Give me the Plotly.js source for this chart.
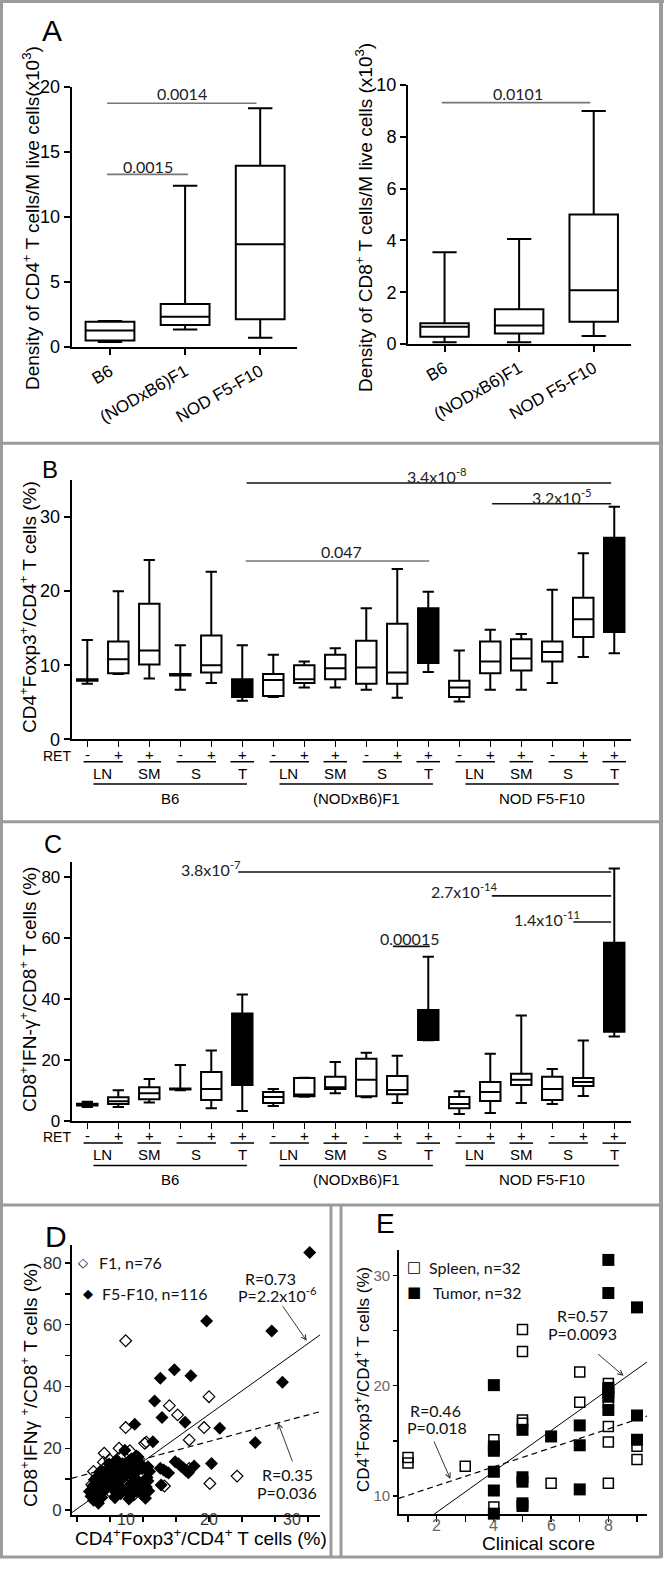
<!DOCTYPE html>
<html><head><meta charset="utf-8">
<script src="https://cdn.plot.ly/plotly-3.0.1.min.js"></script>
<style>html,body{margin:0;padding:0;background:#fff}#g{width:664px;height:1578px}</style>
</head><body><div id="g"></div>
<script>
// ---------------- DATA ----------------
const catsA = ['B6', '(NODxB6)F1', 'NOD F5-F10'];
const posA = [0, 1, 2];
// Panel A left: CD4+ density (x10^3)
const cd4Low = [0.38, 1.35, 0.72];
const cd4Q1 = [0.5, 1.69, 2.13];
const cd4Med = [1.26, 2.33, 7.9];
const cd4Q3 = [1.95, 3.3, 13.95];
const cd4High = [2.0, 12.4, 18.36];
// Panel A right: CD8+ density (x10^3)
const cd8Low = [0.07, 0.07, 0.31];
const cd8Q1 = [0.28, 0.41, 0.86];
const cd8Med = [0.67, 0.71, 2.08];
const cd8Q3 = [0.8, 1.34, 5.0];
const cd8High = [3.54, 4.05, 9.0];

// Panels B/C: 18 groups (3 strains x LN-,LN+,SM+,S-,S+,T+)
const strains = ['B6', '(NODxB6)F1', 'NOD F5-F10'];
const posBC = [0, 1, 2, 3, 4, 5, 6, 7, 8, 9, 10, 11, 12, 13, 14, 15, 16, 17];
const retSigns = ['-', '+', '+', '-', '+', '+'];
const subLabels = ['LN', 'SM', 'S', 'T'];
const subFrom = [0, 2, 3, 5];
const subTo = [1, 2, 4, 5];
const tumorIdx = [5, 11, 17];
// B: CD4+Foxp3+/CD4+ (%)
const bLow = [7.5, 8.8, 8.2, 6.7, 7.6, 5.2, 5.7, 7.0, 7.0, 6.7, 5.6, 9.1, 5.1, 6.7, 6.7, 7.6, 11.1, 11.6];
const bQ1 = [7.9, 8.9, 10.1, 8.6, 9.0, 5.7, 5.85, 7.6, 8.1, 7.5, 7.5, 10.3, 5.7, 8.9, 9.3, 10.5, 13.8, 14.5];
const bMed = [8.0, 10.8, 12.0, 8.7, 10.0, 6.5, 8.0, 8.1, 9.6, 9.7, 9.0, 14.0, 7.0, 10.5, 10.9, 11.8, 16.2, 20.0];
const bQ3 = [8.1, 13.2, 18.3, 8.8, 14.0, 8.1, 8.8, 10.0, 11.4, 13.3, 15.6, 17.7, 7.9, 13.2, 13.5, 13.2, 19.1, 27.2];
const bHigh = [13.4, 20.0, 24.2, 12.7, 22.6, 12.7, 11.4, 10.5, 12.3, 17.7, 23.0, 19.9, 12.0, 14.8, 14.2, 20.2, 25.1, 31.4];
// C: CD8+IFN-g+/CD8+ (%)
const cLow = [4.5, 4.5, 6.0, 10.0, 4.1, 3.2, 4.8, 7.9, 9.0, 7.7, 5.8, 26.4, 2.2, 2.5, 5.8, 5.5, 8.1, 27.6];
const cQ1 = [5.0, 5.5, 7.0, 10.2, 6.8, 11.7, 5.8, 8.0, 10.4, 8.0, 8.7, 26.5, 4.1, 6.5, 11.7, 6.8, 11.4, 29.2];
const cMed = [5.3, 6.4, 9.0, 10.4, 10.4, 25.0, 7.8, 8.6, 11.0, 13.4, 10.1, 31.0, 5.5, 9.4, 13.4, 10.4, 12.7, 45.0];
const cQ3 = [5.6, 7.7, 11.0, 10.6, 16.0, 35.2, 9.4, 14.0, 14.4, 20.3, 14.7, 36.3, 7.8, 12.7, 15.4, 14.4, 14.0, 58.4];
const cHigh = [6.2, 10.0, 13.7, 18.3, 23.0, 41.4, 10.4, 14.1, 19.3, 22.3, 21.3, 53.8, 9.7, 22.0, 34.5, 17.0, 26.3, 82.75];

// significance bars: [from, to, level], label, label position
const aLeftSigText = ['0.0015', '0.0014'];
const aLeftSigFrom = [-0.04, -0.04], aLeftSigTo = [1.04, 1.95], aLeftSigY = [13.28, 18.75];
const aLeftSigTx = [0.51, 0.96], aLeftSigShift = [7.6, 9.3];
const aRightSigText = ['0.0101'];
const aRightSigFrom = [-0.036], aRightSigTo = [1.954], aRightSigY = [9.32];
const aRightSigTx = [0.985], aRightSigShift = [8.7];
const bSigText = ['3.4x10<sup>-8</sup>', '3.2x10<sup>-5</sup>', '0.047'];
const bSigFrom = [5.14, 13.06, 5.11], bSigTo = [16.9, 16.9, 11.03], bSigY = [34.6, 31.8, 24.07];
const bSigTx = [11.28, 15.33, 8.21], bSigShift = [7.7, 7.3, 9.2], bSigColor = ['#111', '#111', '#777'];
const cSigText = ['3.8x10<sup>-7</sup>', '2.7x10<sup>-14</sup>', '1.4x10<sup>-11</sup>', '0.00015'];
const cSigFrom = [4.87, 13.05, 15.68, 9.86], cSigTo = [16.9, 16.9, 16.9, 11.05], cSigY = [81.6, 73.8, 65.2, 57.2];
const cSigTx = [5.02, 13.31, 15.95, 10.41], cSigShift = [3.7, 5.7, 3.7, 8.4], cSigAnchor = ['right', 'right', 'right', 'center'];

// Panel D scatter: [Foxp3 %, IFNg %]
const dF1 = [[9.9,54.8],[20.0,36.7],[15.2,33.8],[16.2,30.8],[19.4,26.7],[9.9,26.7],[17.6,22.7],[12.2,21.6],[12.4,22.0],[9.1,20.0],[7.3,18.4],[17.6,13.5],[20.1,8.6],[23.4,11.0],[14.6,7.8],[7.7,14.6],
  [5.8,8.3],[6.2,5.7],[6.7,10.8],[7.0,7.3],[7.5,12.0],[8.1,9.0],[8.4,13.2],[8.7,5.9],[9.0,11.0],[9.4,14.3],[9.8,8.6],[10.1,12.4],[10.5,15.2],[10.8,9.9],[11.2,6.3],[11.6,11.6],
  [6.5,3.9],[7.9,6.2],[9.2,17.0],[10.4,19.2],[11.0,13.5],[8.0,16.2],[12.0,8.8],[6.0,12.5],[7.2,15.5],[10.9,4.9]];
const dF5 = [[32.2,83.4],[19.7,61.2],[27.6,58.0],[28.9,41.4],[15.8,45.4],[17.8,43.5],[14.1,42.7],[13.4,35.3],[14.3,30.0],[17.1,28.4],[21.3,26.5],[11.0,27.8],[25.6,21.9],[13.2,22.1],[9.8,19.4],[11.2,17.5],[11.4,17.2],[18.2,14.3],[20.3,15.1],
  [15.9,15.6],[16.3,15.0],[16.6,14.2],[16.9,13.6],[17.2,12.8],[17.5,12.1],[14.1,13.5],[14.5,13.0],[14.8,12.4],[15.1,12.0],[12.6,14.0],[12.8,12.5],[12.5,10.5],[12.6,9.4],[12.4,7.5],[12.7,6.2],[12.3,3.8],[14.2,8.1],
  [5.5,6.0],[5.7,4.5],[6.0,3.2],[6.3,5.3],[6.5,7.0],[6.6,2.2],[6.9,8.5],[7.0,4.1],[7.3,9.5],[7.4,6.5],[7.6,11.2],[7.8,12.3],[8.0,8.0],[8.2,10.4],[8.3,13.5],[8.5,6.4],[8.7,11.5],[8.9,14.2],[9.0,9.3],[9.2,12.8],[9.4,7.2],[9.5,15.0],[9.7,10.6],[9.9,13.8],[10.0,6.0],[10.2,15.6],[10.4,11.9],[10.5,8.4],[10.7,14.5],[10.9,5.7],[11.1,10.0],[11.3,12.6],[11.5,7.8],[11.6,9.0],[11.8,5.2],[11.9,13.4],
  [6.1,9.8],[7.1,11.8],[8.6,4.0],[9.3,5.3],[10.3,3.6],[5.9,7.8],[6.8,12.5],[7.9,14.9],[8.8,16.3],[10.6,16.6],[11.7,15.0],[9.6,12.0],[8.4,9.6],[7.7,7.5],[6.4,10.6]];
const dFitSlope = [1.913, 0.717];      // F5-F10 (solid), F1 (dashed)
const dFitIntercept = [-7.3, 7.86];
const dXTicks = [4, 8, 12, 16, 20, 24, 28, 32];
const dXLabels = [10, 20, 30];
const dYTicks = [0, 10, 20, 30, 40, 50, 60, 70, 80];
const dYLabels = ['0', '', '20', '', '40', '', '60', '', '80'];

// Panel E scatter: [clinical score, CD4+Foxp3+/CD4+ %]
const eSpleen = [[1,13.5],[1,13.0],[3,12.7],[4,15.1],[4,9.0],[5,25.1],[5,23.1],[5,16.6],[5,16.9],[6,11.15],[7,21.25],[7,18.5],[8,20.2],[8,19.6],[8,18.5],[8,16.3],[8,14.9],[8,11.15],[9,14.5],[9,13.3]];
const eTumor = [[8,31.4],[8,28.4],[9,27.1],[4,20.05],[8,19.8],[8,19.4],[8,19.0],[8,17.8],[7,16.4],[7,14.6],[5,16.0],[5,11.7],[5,11.3],[5,9.34],[5,9.1],[6,15.4],[4,14.5],[4,14.1],[4,12.2],[4,10.5],[7,10.6],[9,17.3],[9,15.1],[4,8.4]];
const eFitSlope = [1.854, 0.859];      // tumor (solid), spleen (dashed)
const eFitIntercept = [4.81, 9.21];
const eXTicks = [1, 2, 3, 4, 5, 6, 7, 8, 9];
const eXLabels = [2, 4, 6, 8];
const eYTicks = [10, 15, 20, 25, 30];
const eYLabels = ['10', '', '20', '', '30'];

// ---------------- HELPERS ----------------
const W = 664, H = 1578;
const FA = 'Liberation Sans, Arial, sans-serif';
const FC = 'Lato, Carlito, Calibri, sans-serif';
const FS = 'DejaVu Sans, sans-serif';
const GRAY = '#9b9b9b';
const pxX = x => x / W, pxY = y => 1 - y / H;

function xa(l, r, range, extra) {
  return Object.assign({domain: [l / W, r / W], range: range, showline: true, linecolor: 'black', linewidth: 2,
    showgrid: false, zeroline: false, ticks: 'outside', ticklen: 6, tickwidth: 2, tickcolor: 'black',
    fixedrange: true, tickfont: {family: FA, size: 17, color: 'black'}}, extra || {});
}
function ya(t, b, range, extra) {
  return Object.assign({domain: [1 - b / H, 1 - t / H], range: range, showline: true, linecolor: 'black', linewidth: 2,
    showgrid: false, zeroline: false, ticks: 'outside', ticklen: 6, tickwidth: 2, tickcolor: 'black',
    fixedrange: true, tickfont: {family: FA, size: 18, color: 'black'}}, extra || {});
}
const annotations = [];
const shapes = [];
function txt(text, x, y, size, opts) {
  annotations.push(Object.assign({text: text, x: pxX(x), y: pxY(y), xref: 'paper', yref: 'paper', showarrow: false,
    xanchor: 'center', yanchor: 'middle', font: {family: FA, size: size, color: 'black'}}, opts || {}));
}
function pline(x0, y0, x1, y1, color, w) {
  shapes.push({type: 'line', xref: 'paper', yref: 'paper', x0: pxX(x0), y0: pxY(y0), x1: pxX(x1), y1: pxY(y1),
    line: {color: color, width: w}});
}
function boxTrace(ax, idx, lo, q1, med, q3, hi, pos, fill, width, ww) {
  const pick = a => idx.map(i => a[i]);
  return {type: 'box', xaxis: 'x' + ax, yaxis: 'y' + ax, x: pick(pos), lowerfence: pick(lo), q1: pick(q1),
    median: pick(med), q3: pick(q3), upperfence: pick(hi), width: width, whiskerwidth: ww,
    fillcolor: fill, line: {color: 'black', width: 2}, boxpoints: false, hoverinfo: 'skip', showlegend: false};
}
function sigBars(ax, from, to, ylev, texts, tx, shift, colors, anchors, fsize) {
  for (let i = 0; i < texts.length; i++) {
    const col = colors ? colors[i] : '#111';
    shapes.push({type: 'line', xref: 'x' + ax, yref: 'y' + ax, x0: from[i], x1: to[i], y0: ylev[i], y1: ylev[i],
      line: {color: col, width: 1.6}});
    annotations.push({text: texts[i], x: tx[i], y: ylev[i], xref: 'x' + ax, yref: 'y' + ax, showarrow: false,
      xanchor: anchors ? anchors[i] : 'center', yanchor: 'middle', yshift: shift[i],
      font: {family: FC, size: fsize, color: '#222'}});
  }
}

// ---------------- TRACES ----------------
const traces = [];
traces.push(boxTrace('', posA, cd4Low, cd4Q1, cd4Med, cd4Q3, cd4High, posA, 'white', 0.65, 0.5));
traces.push(boxTrace('2', posA, cd8Low, cd8Q1, cd8Med, cd8Q3, cd8High, posA, 'white', 0.65, 0.5));
const openIdx = posBC.filter(i => tumorIdx.indexOf(i) < 0);
traces.push(boxTrace('3', openIdx, bLow, bQ1, bMed, bQ3, bHigh, posBC, 'white', 0.66, 0.55));
traces.push(boxTrace('3', tumorIdx, bLow, bQ1, bMed, bQ3, bHigh, posBC, 'black', 0.66, 0.55));
traces.push(boxTrace('4', openIdx, cLow, cQ1, cMed, cQ3, cHigh, posBC, 'white', 0.66, 0.55));
traces.push(boxTrace('4', tumorIdx, cLow, cQ1, cMed, cQ3, cHigh, posBC, 'black', 0.66, 0.55));

// D
traces.push({type: 'scatter', mode: 'markers', xaxis: 'x5', yaxis: 'y5', x: dF1.map(p => p[0]), y: dF1.map(p => p[1]),
  marker: {symbol: 'diamond-open', size: 9, color: 'black', line: {width: 1.2, color: 'black'}}, hoverinfo: 'skip', cliponaxis: false});
traces.push({type: 'scatter', mode: 'markers', xaxis: 'x5', yaxis: 'y5', x: dF5.map(p => p[0]), y: dF5.map(p => p[1]),
  marker: {symbol: 'diamond', size: 10, color: 'black'}, hoverinfo: 'skip', cliponaxis: false});
const dXR = [3.36, 33.45];
traces.push({type: 'scatter', mode: 'lines', xaxis: 'x5', yaxis: 'y5', x: dXR, y: dXR.map(x => dFitSlope[0] * x + dFitIntercept[0]),
  line: {color: 'black', width: 1}, hoverinfo: 'skip'});
traces.push({type: 'scatter', mode: 'lines', xaxis: 'x5', yaxis: 'y5', x: dXR, y: dXR.map(x => dFitSlope[1] * x + dFitIntercept[1]),
  line: {color: 'black', width: 1.2, dash: '6px,4px'}, hoverinfo: 'skip'});
// E
const eXR = [0.675, 9.35];
traces.push({type: 'scatter', mode: 'lines', xaxis: 'x6', yaxis: 'y6', x: eXR, y: eXR.map(x => eFitSlope[0] * x + eFitIntercept[0]),
  line: {color: 'black', width: 1}, hoverinfo: 'skip'});
traces.push({type: 'scatter', mode: 'lines', xaxis: 'x6', yaxis: 'y6', x: eXR, y: eXR.map(x => eFitSlope[1] * x + eFitIntercept[1]),
  line: {color: 'black', width: 1.2, dash: '6px,4px'}, hoverinfo: 'skip'});
traces.push({type: 'scatter', mode: 'markers', xaxis: 'x6', yaxis: 'y6', x: eSpleen.map(p => p[0]), y: eSpleen.map(p => p[1]),
  marker: {symbol: 'square-open', size: 10, color: 'black', line: {width: 1.5, color: 'black'}}, hoverinfo: 'skip', cliponaxis: false});
traces.push({type: 'scatter', mode: 'markers', xaxis: 'x6', yaxis: 'y6', x: eTumor.map(p => p[0]), y: eTumor.map(p => p[1]),
  marker: {symbol: 'square', size: 12, color: 'black'}, hoverinfo: 'skip', cliponaxis: false});

// ---------------- ANNOTATIONS / DECOR ----------------
// Frames
pline(0, 1.5, 664, 1.5, GRAY, 3);
pline(1.5, 0, 1.5, 1558, GRAY, 3);
pline(661, 0, 661, 1558, GRAY, 4);
pline(0, 443.3, 661, 443.3, GRAY, 3);
pline(0, 821.7, 661, 821.7, GRAY, 3);
pline(0, 1205, 661, 1205, GRAY, 3);
pline(331, 1205, 331, 1558, GRAY, 3);
pline(341, 1205, 341, 1558, GRAY, 3);
pline(0, 1557, 661, 1557, GRAY, 3);

// Panel letters
txt('A', 52, 31, 30);
txt('B', 50, 469, 24);
txt('C', 53, 844, 25);
txt('D', 56, 1236, 30);
txt('E', 385, 1223, 28);

// Axis titles
txt('Density of CD4<sup>+</sup> T cells/M live cells(x10<sup>3</sup>)', 31, 218, 19, {textangle: -90});
txt('Density of CD8<sup>+</sup> T cells/M live cells (x10<sup>3</sup>)', 364, 218, 19, {textangle: -90});
txt('CD4<sup>+</sup>Foxp3<sup>+</sup>/CD4<sup>+</sup> T cells (%)', 28, 607, 19, {textangle: -90});
txt('CD8<sup>+</sup>IFN-γ<sup>+</sup>/CD8<sup>+</sup> T cells (%)', 28, 990, 19, {textangle: -90});
txt('CD8<sup>+</sup>IFNγ <sup>+</sup>/CD8<sup>+</sup> T cells (%)', 29, 1385, 19, {textangle: -90});
txt('CD4<sup>+</sup>Foxp3<sup>+</sup>/CD4<sup>+</sup> T cells (%)', 201, 1537, 19);
txt('CD4<sup>+</sup>Foxp3<sup>+</sup>/CD4<sup>+</sup> T cells (%)', 362, 1380, 17, {textangle: -90});
txt('Clinical score', 538, 1543, 19);

// Significance bars
sigBars('', aLeftSigFrom, aLeftSigTo, aLeftSigY, aLeftSigText, aLeftSigTx, aLeftSigShift, ['#777', '#777'], null, 16);
sigBars('2', aRightSigFrom, aRightSigTo, aRightSigY, aRightSigText, aRightSigTx, aRightSigShift, ['#777'], null, 16);
sigBars('3', bSigFrom, bSigTo, bSigY, bSigText, bSigTx, bSigShift, bSigColor, null, 16);
sigBars('4', cSigFrom, cSigTo, cSigY, cSigText, cSigTx, cSigShift, null, cSigAnchor, 16);

// B / C category decorations under the x axis
function catRows(ax, yAxisPx) {
  const off = yAxisPx - 739.3;
  txt('RET', 56.7, 756 + off, 14);
  for (let s = 0; s < 3; s++) {
    for (let k = 0; k < 6; k++) {
      annotations.push({text: retSigns[k], x: posBC[s * 6 + k], y: pxY(754 + off), xref: 'x' + ax, yref: 'paper',
        showarrow: false, xanchor: 'center', yanchor: 'middle', font: {family: FA, size: 15, color: 'black'}});
    }
    for (let j = 0; j < subLabels.length; j++) {
      const a = posBC[s * 6 + subFrom[j]], b = posBC[s * 6 + subTo[j]];
      const single = a === b;
      shapes.push({type: 'line', xref: 'x' + ax, yref: 'paper', x0: single ? a - 0.38 : a - 0.12, x1: single ? b + 0.38 : b + 0.15,
        y0: pxY(761.7 + off), y1: pxY(761.7 + off), line: {color: 'black', width: 1.5}});
      annotations.push({text: subLabels[j], x: (a + b) / 2, y: pxY(773.5 + off), xref: 'x' + ax, yref: 'paper',
        showarrow: false, xanchor: 'center', yanchor: 'middle', font: {family: FA, size: 15, color: 'black'}});
    }
    const g0 = posBC[s * 6] + 0.2, g1 = posBC[s * 6 + 5] + 0.15;
    shapes.push({type: 'line', xref: 'x' + ax, yref: 'paper', x0: g0, x1: g1, y0: pxY(784 + off), y1: pxY(784 + off),
      line: {color: 'black', width: 1.5}});
    annotations.push({text: strains[s], x: (g0 + g1) / 2, y: pxY(798.5 + off), xref: 'x' + ax, yref: 'paper',
      showarrow: false, xanchor: 'center', yanchor: 'middle', font: {family: FA, size: 15, color: 'black'}});
  }
}
catRows('3', 739.3);
catRows('4', 1120.7);

// D tick labels, legend, stats
dXLabels.forEach(v => annotations.push({text: String(v), x: v, y: pxY(1519), xref: 'x5', yref: 'paper', showarrow: false,
  xanchor: 'center', yanchor: 'middle', font: {family: FA, size: 16, color: '#333'}}));
txt('◇', 83, 1262, 13, {font: {family: FS, size: 13, color: 'black'}});
txt('◆', 88, 1293, 13, {font: {family: FS, size: 13, color: 'black'}});
txt('F1, n=76', 97, 1262, 16, {xanchor: 'left', font: {family: FC, size: 16, color: '#111'}});
txt('F5-F10, n=116', 100, 1293, 16, {xanchor: 'left', font: {family: FC, size: 16, color: '#111'}});
txt('R=0.73', 270, 1278, 16, {font: {family: FC, size: 16, color: '#111'}});
txt('P=2.2x10<sup>-6</sup>', 277, 1294, 16, {font: {family: FC, size: 16, color: '#111'}});
txt('R=0.35', 287, 1474, 16, {font: {family: FC, size: 16, color: '#111'}});
txt('P=0.036', 287, 1492, 16, {font: {family: FC, size: 16, color: '#111'}});
// E tick labels, legend, stats
eXLabels.forEach(v => annotations.push({text: String(v), x: v, y: pxY(1525), xref: 'x6', yref: 'paper', showarrow: false,
  xanchor: 'center', yanchor: 'middle', font: {family: FA, size: 16, color: '#666'}}));
txt('□', 414, 1267, 15, {font: {family: FS, size: 15, color: 'black'}});
txt('■', 414, 1292, 15, {font: {family: FS, size: 15, color: 'black'}});
txt('Spleen, n=32', 427, 1267, 16, {xanchor: 'left', font: {family: FC, size: 16, color: '#111'}});
txt('Tumor, n=32', 431, 1292, 16, {xanchor: 'left', font: {family: FC, size: 16, color: '#111'}});
txt('R=0.57', 582, 1315, 16, {font: {family: FC, size: 16, color: '#111'}});
txt('P=0.0093', 582, 1333, 16, {font: {family: FC, size: 16, color: '#111'}});
txt('R=0.46', 435, 1410, 16, {font: {family: FC, size: 16, color: '#111'}});
txt('P=0.018', 437, 1427, 16, {font: {family: FC, size: 16, color: '#111'}});

// Arrows pointing at regression lines
function arrow(ax, x, y, dx, dy) {
  annotations.push({text: '', x: x, y: y, xref: 'x' + ax, yref: 'y' + ax, showarrow: true, ax: dx, ay: dy,
    arrowhead: 5, arrowsize: 1.1, arrowwidth: 0.9, arrowcolor: '#222'});
}
arrow('5', 31.84, 54.8, -25, -36);
arrow('5', 28.36, 28.2, 15, 40);
arrow('6', 8.53, 20.9, -27, -23);
arrow('6', 2.48, 11.55, -17, -39);

// ---------------- LAYOUT ----------------
const layout = {
  width: W, height: H, margin: {l: 0, r: 0, t: 0, b: 0}, paper_bgcolor: 'white', plot_bgcolor: 'rgba(0,0,0,0)',
  showlegend: false, boxmode: 'overlay', font: {family: FA, color: 'black'},
  xaxis: xa(71.7, 297, [-0.51, 2.49], {anchor: 'y', tickmode: 'array', tickvals: posA, ticktext: catsA, tickangle: -30}),
  yaxis: ya(87, 347, [0, 20], {anchor: 'x', tickmode: 'array', tickvals: [0, 5, 10, 15, 20]}),
  xaxis2: xa(408, 631, [-0.49, 2.5], {anchor: 'y2', tickmode: 'array', tickvals: posA, ticktext: catsA, tickangle: -30}),
  yaxis2: ya(85, 344, [0, 10], {anchor: 'x2', tickmode: 'array', tickvals: [0, 2, 4, 6, 8, 10]}),
  xaxis3: xa(71.7, 631, [-0.503, 17.54], {anchor: 'y3', tickmode: 'array', tickvals: posBC, showticklabels: false, tickwidth: 1.5}),
  yaxis3: ya(480, 739.3, [0, 35], {anchor: 'x3', tickmode: 'array', tickvals: [0, 10, 20, 30]}),
  xaxis4: xa(71.7, 631, [-0.503, 17.54], {anchor: 'y4', tickmode: 'array', tickvals: posBC, showticklabels: false, tickwidth: 1.5}),
  yaxis4: ya(861.7, 1120.7, [0, 85], {anchor: 'x4', tickmode: 'array', tickvals: [0, 20, 40, 60, 80], tickfont: {family: FA, size: 17, color: 'black'}}),
  xaxis5: xa(71.7, 320, [3.36, 33.45], {anchor: 'y5', tickmode: 'array', tickvals: dXTicks, showticklabels: false, linewidth: 1.5, tickwidth: 1.5, ticklen: 5}),
  yaxis5: ya(1245, 1515, [-1.6, 85.8], {anchor: 'x5', tickmode: 'array', tickvals: dYTicks,
    ticktext: dYLabels, linewidth: 1.5, tickwidth: 1.5, ticklen: 5, tickfont: {family: FA, size: 17, color: '#333'}}),
  xaxis6: xa(398.7, 647, [0.675, 9.35], {anchor: 'y6', tickmode: 'array', tickvals: eXTicks,
    showticklabels: false, linewidth: 1.5, tickwidth: 1.5, ticklen: 6}),
  yaxis6: ya(1250, 1514, [8.37, 32.3], {anchor: 'x6', tickmode: 'array', tickvals: eYTicks,
    ticktext: eYLabels, linewidth: 1.5, tickwidth: 1.5, ticklen: 4, tickfont: {family: FA, size: 15, color: '#666'}}),
  annotations: annotations,
  shapes: shapes
};

Plotly.newPlot('g', traces, layout, {staticPlot: true, displayModeBar: false});
</script>
</body></html>
